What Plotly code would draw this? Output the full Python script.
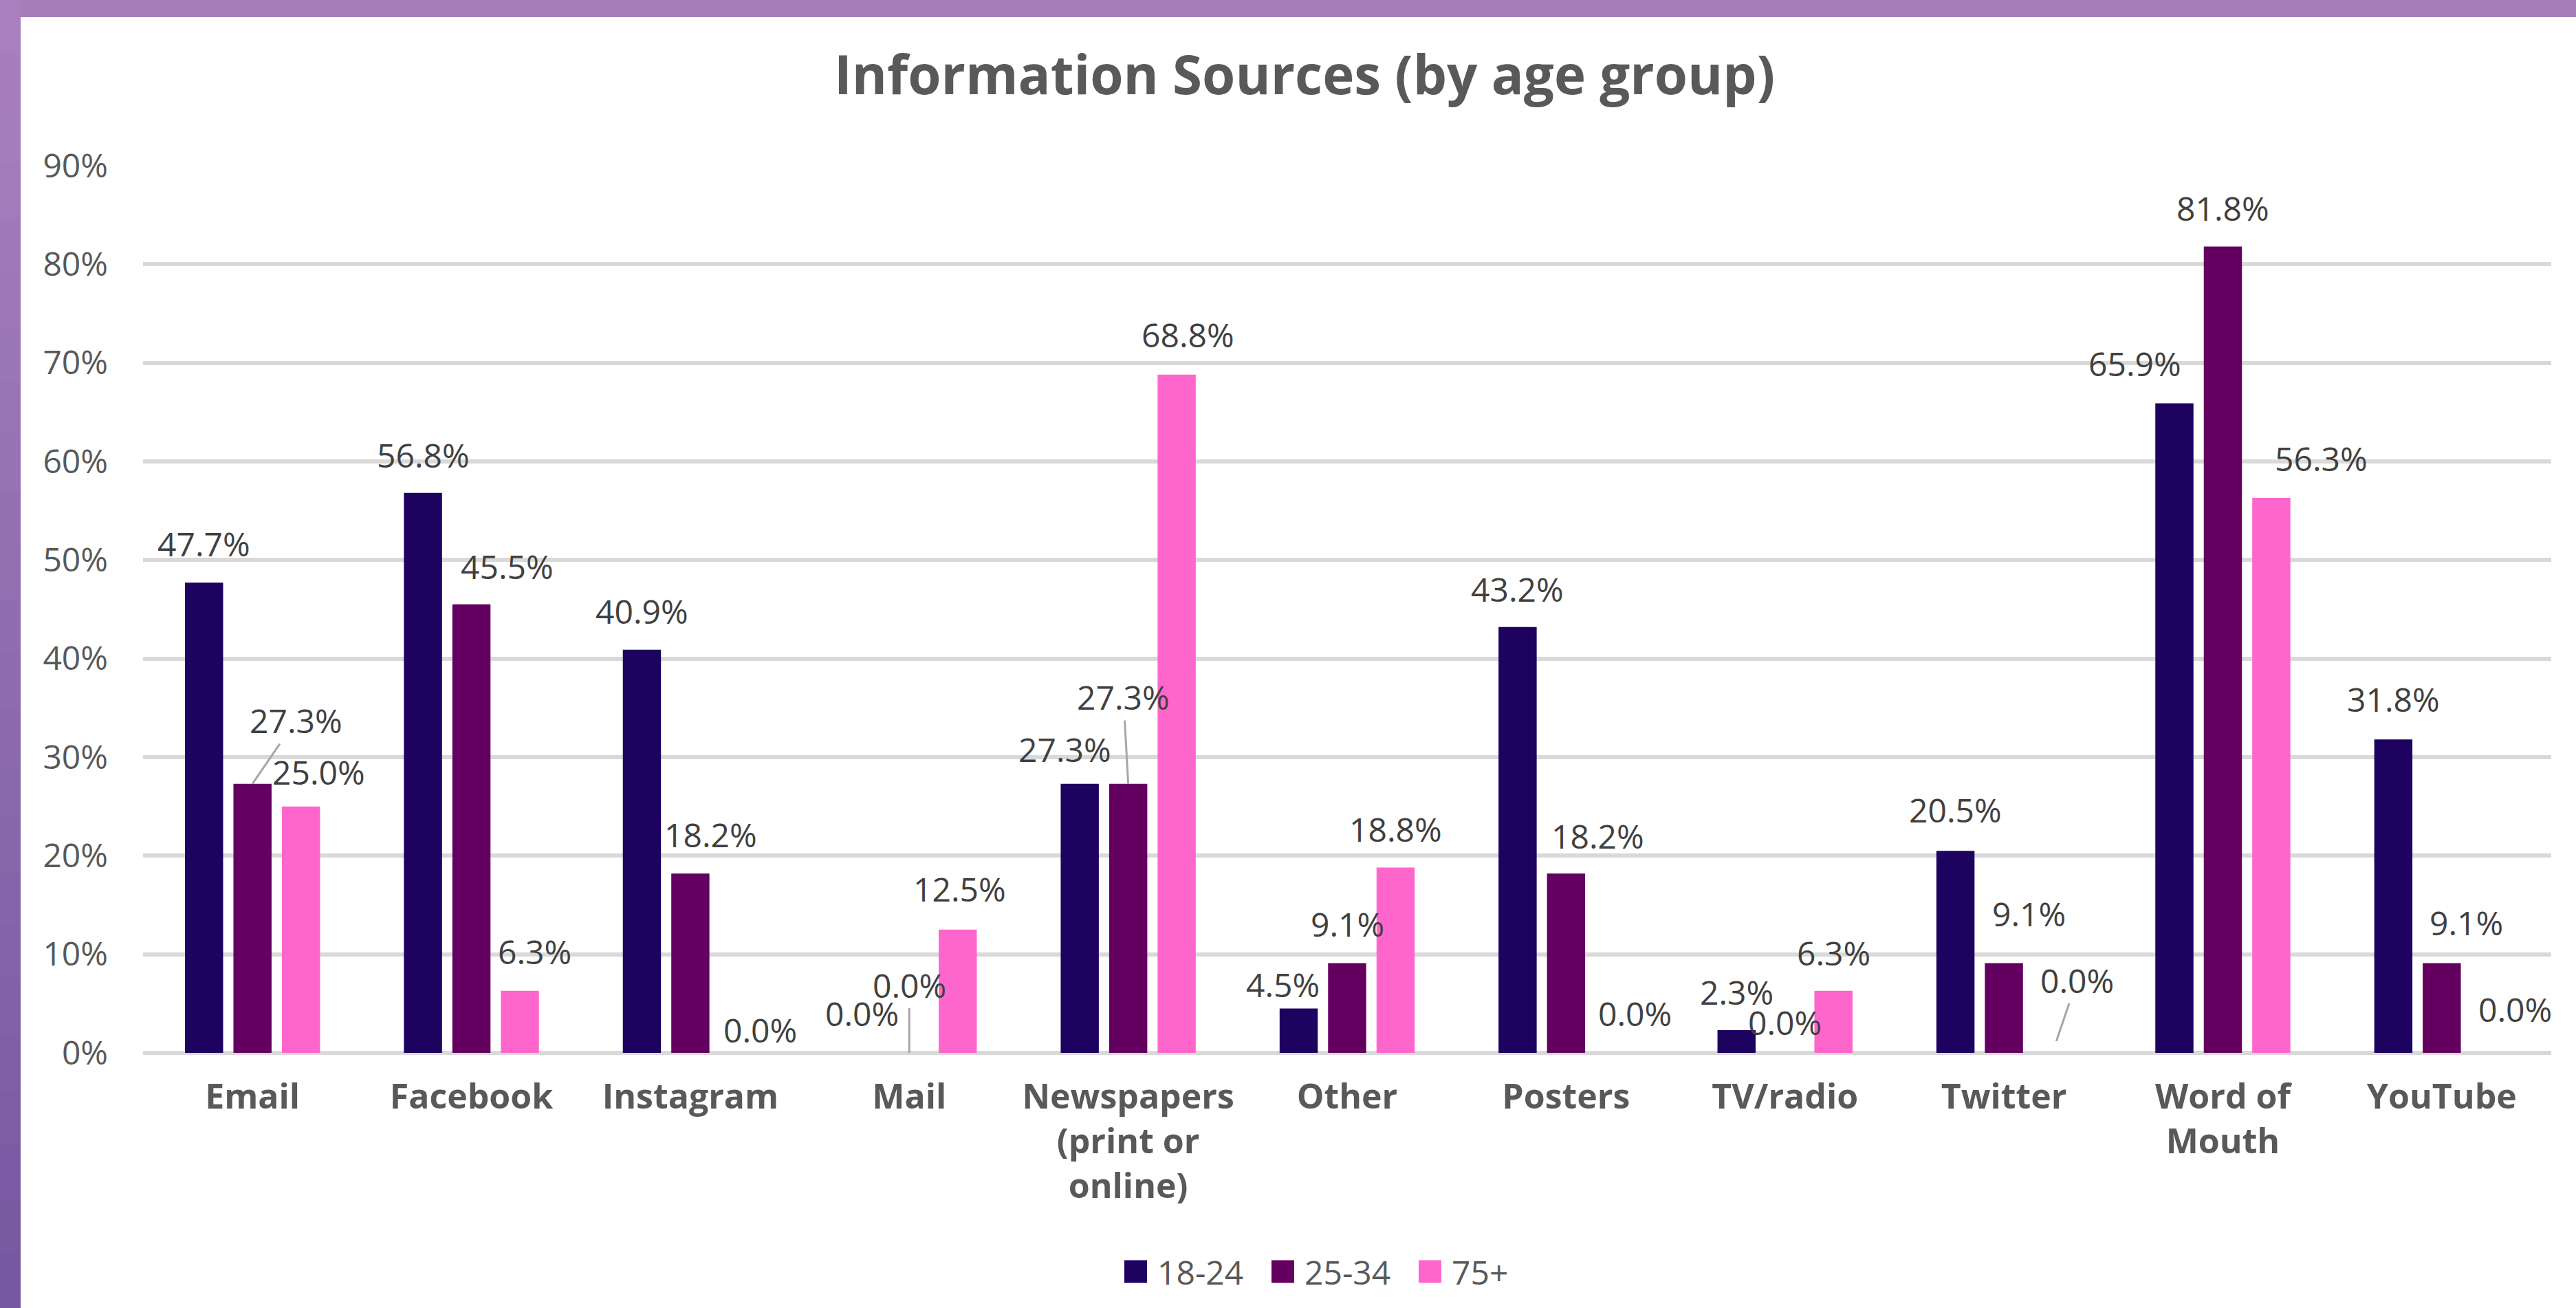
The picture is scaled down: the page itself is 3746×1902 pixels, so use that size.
import plotly.graph_objects as go

# ---------------- data ----------------
categories = ["Email", "Facebook", "Instagram", "Mail", "Newspapers<br>(print or<br>online)",
              "Other", "Posters", "TV/radio", "Twitter", "Word of<br>Mouth", "YouTube"]
series_names = ["18-24", "25-34", "75+"]
values_18_24 = [47.7, 56.8, 40.9, 0.0, 27.3, 4.5, 43.2, 2.3, 20.5, 65.9, 31.8]
values_25_34 = [27.3, 45.5, 18.2, 0.0, 27.3, 9.1, 18.2, 0.0, 9.1, 81.8, 9.1]
values_75_plus = [25.0, 6.3, 0.0, 12.5, 68.8, 18.8, 0.0, 6.3, 0.0, 56.3, 0.0]
y_tick_values = [0, 10, 20, 30, 40, 50, 60, 70, 80, 90]
y_tick_labels = ["0%", "10%", "20%", "30%", "40%", "50%", "60%", "70%", "80%", "90%"]
chart_title = "Information Sources (by age group)"

series_values = [values_18_24, values_25_34, values_75_plus]

# ---------------- style ----------------
colors = ["#1d025f", "#640060", "#ff66cc"]
FONT = "Open Sans"
W_FIG, H_FIG = 3746, 1902
L, R, T, B = 208, 36, 241, 371
PW, PH = W_FIG - L - R, H_FIG - T - B
BARGAP, BARGROUPGAP = 0.336, 0.213

# per-label offsets (dx px right, dy px above bar top) — label placement style
label_offsets = [
    [(0, 57), (0, 55), (0, 56), (2, 58), (-22, 50), (-23, 35), (0, 55), (0, 56), (0, 60), (-57, 58), (0, 59)],
    [(63, 92), (52, 55), (30, 57), (0, 99), (-7, 126), (0, 57), (46, 55), (0, 45), (36, 72), (0, 56), (36, 59)],
    [(26, 50), (21, 57), (31, 34), (3, 59), (16, 58), (0, 56), (30, 58), (0, 55), (36, 106), (73, 58), (36, 64)],
]
leader_lines = {(1, 0): 0, (1, 3): 0, (1, 4): 0, (2, 8): 18}  # (series, category): standoff


def px_x(p):
    return (p - L) / PW


def px_y(p):
    return 1 - (p - T) / PH


fig = go.Figure()
for name, vals, col in zip(series_names, series_values, colors):
    fig.add_trace(go.Bar(x=categories, y=vals, name=name, marker=dict(color=col, line=dict(width=0)),
                         showlegend=False, hoverinfo="x+y+name"))

cat_w = PW / len(categories)
slot = cat_w * (1 - BARGAP) / len(series_names)

annotations = []
for i, vals in enumerate(series_values):
    for j, v in enumerate(vals):
        dx, dy = label_offsets[i][j]
        xs = (i - (len(series_names) - 1) / 2) * slot
        common = dict(x=categories[j], y=v, xref="x", yref="y", text=f"{v:.1f}%",
                      font=dict(family=FONT, size=48, color="#404040"))
        if (i, j) in leader_lines:
            annotations.append(dict(**common, showarrow=True, arrowhead=0, arrowwidth=3,
                                    arrowcolor="#a6a6a6", ax=dx, ay=-dy, xshift=xs,
                                    standoff=leader_lines[(i, j)]))
        else:
            annotations.append(dict(**common, showarrow=False, xshift=xs + dx, yshift=dy,
                                    xanchor="center", yanchor="middle"))

# manual legend (large square swatches)
legend_sq_x = [1635, 1849, 2063]
LEG_Y, SQ = 1849, 33
shapes = []
for k, (name, col) in enumerate(zip(series_names, colors)):
    x0 = legend_sq_x[k]
    shapes.append(dict(type="rect", xref="paper", yref="paper", x0=px_x(x0), x1=px_x(x0 + SQ),
                       y0=px_y(LEG_Y + SQ / 2), y1=px_y(LEG_Y - SQ / 2), fillcolor=col,
                       line=dict(width=0), layer="above"))
    annotations.append(dict(x=px_x(x0 + SQ + 13), y=px_y(LEG_Y), xref="paper", yref="paper",
                            text=name, showarrow=False, xanchor="left", yanchor="middle",
                            font=dict(family=FONT, size=48, color="#595959")))

# purple frame (top strip and left gradient strip)
shapes.append(dict(type="rect", xref="paper", yref="paper", x0=px_x(0), x1=px_x(W_FIG),
                   y0=px_y(25), y1=px_y(0), fillcolor="#a47db9", line=dict(width=0), layer="above"))
N = 24
c_top, c_bot = (168, 128, 190), (118, 88, 160)
for s in range(N):
    t = s / (N - 1)
    c = tuple(round(a + (b - a) * t) for a, b in zip(c_top, c_bot))
    y0p, y1p = H_FIG * s / N, H_FIG * (s + 1) / N + 1
    shapes.append(dict(type="rect", xref="paper", yref="paper", x0=px_x(0), x1=px_x(30),
                       y0=px_y(y1p), y1=px_y(y0p), fillcolor="rgb(%d,%d,%d)" % c,
                       line=dict(width=0), layer="above"))

fig.update_layout(
    width=W_FIG, height=H_FIG,
    margin=dict(l=L, r=R, t=T, b=B, pad=0),
    paper_bgcolor="white", plot_bgcolor="white",
    barmode="group", bargap=BARGAP, bargroupgap=BARGROUPGAP,
    title=dict(text=chart_title, x=1897 / W_FIG, xanchor="center", y=1 - 110 / H_FIG, yanchor="middle",
               font=dict(family=FONT, size=78, color="#595959", weight="bold")),
    font=dict(family=FONT, color="#595959"),
    xaxis=dict(type="category", range=[-0.5, len(categories) - 0.5], showgrid=False, showline=False,
               ticks="", tickfont=dict(family=FONT, size=50, color="#595959", weight="bold"),
               ticklabelstandoff=30),
    yaxis=dict(range=[0, 90], tickvals=y_tick_values, ticktext=y_tick_labels, showgrid=True,
               gridcolor="#d9d9d9", gridwidth=6, zeroline=True, zerolinecolor="#d9d9d9",
               zerolinewidth=6, showline=False, ticks="",
               tickfont=dict(family=FONT, size=48, color="#595959"), ticklabelstandoff=50),
    annotations=annotations,
    shapes=shapes,
    showlegend=False,
)

fig.write_html("out.html", config={"displayModeBar": False},
               post_script="document.body.style.margin='0px';document.body.style.overflow='hidden';")
